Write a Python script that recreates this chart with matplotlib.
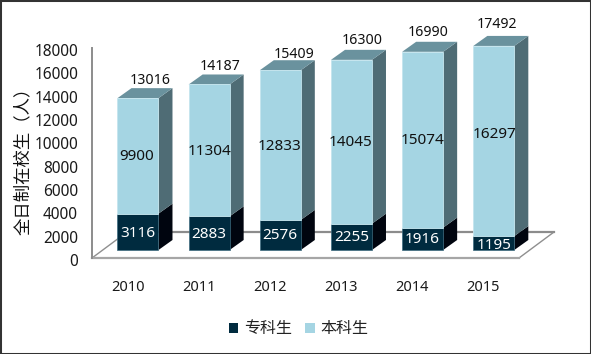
import matplotlib
matplotlib.use("Agg")
import matplotlib.pyplot as plt
from matplotlib.patches import Patch, Rectangle
from matplotlib.transforms import ScaledTranslation

plt.rcParams['font.family'] = ['Noto Sans', 'Noto Sans CJK SC', 'DejaVu Sans']

years = ['2010', '2011', '2012', '2013', '2014', '2015']
zhuanke = [3116, 2883, 2576, 2255, 1916, 1195]
benke = [9900, 11304, 12833, 14045, 15074, 16297]
totals = [13016, 14187, 15409, 16300, 16990, 17492]
y_ticks = list(range(0, 18001, 2000))

W, H = 591, 354
fig = plt.figure(figsize=(W / 100, H / 100), dpi=100, facecolor='white')
fig.add_artist(Rectangle((0, 0), 1, 1, transform=fig.transFigure, fill=False,
                         edgecolor='#333333', linewidth=2.2))

L, R, B, T = 92, 519, 258, 48
ax = fig.add_axes([L / W, 1 - B / H, (R - L) / W, (B - T) / H])
ax.set_xlim(-0.5, 5.5)
ax.set_ylim(0, 18000)
ax.patch.set_alpha(0)

pxx = 6 / (R - L)           # category units per pixel
pxy = 18000 / (B - T)       # value units per pixel

# floor
fdx, fdy = 35 * pxx, 26 * pxy
x0, x1 = -0.5, 5.5
ax.plot([x0, x0 + fdx], [0, fdy], color='#8f8f8f', lw=1, clip_on=False, zorder=1)
ax.plot([x1, x1 + fdx], [0, fdy], color='#8f8f8f', lw=1, clip_on=False, zorder=1)
ax.plot([x0 + fdx, x1 + fdx], [fdy, fdy], color='#8c8c8c', lw=1.6, clip_on=False, zorder=1)
ax.plot([x0, x1], [0, 0], color='#a6a6a6', lw=1.6, clip_on=False, zorder=1)

# bars
ox, oy = 10.4 * pxx, 8 * pxy
w = 41 * pxx
dx, dy = 14 * pxx, 10 * pxy
LIGHT, LIGHT_TOP, LIGHT_SIDE = '#A5D5E3', '#6A929E', '#4F6C75'
DARK, DARK_SIDE = '#002B3F', '#00050F'

for i in range(len(years)):
    xl = i + ox - w / 2
    xr = xl + w
    y0 = oy
    y1 = oy + zhuanke[i]
    y2 = y1 + benke[i]
    ax.fill([xr, xr + dx, xr + dx, xr], [y0, y0 + dy, y1 + dy, y1], color=DARK_SIDE, lw=0, zorder=2, clip_on=False)
    ax.fill([xr, xr + dx, xr + dx, xr], [y1, y1 + dy, y2 + dy, y2], color=LIGHT_SIDE, lw=0, zorder=2, clip_on=False)
    ax.fill([xl, xr, xr + dx, xl + dx], [y2, y2, y2 + dy, y2 + dy], color=LIGHT_TOP, lw=0, zorder=2, clip_on=False)
ax.bar([i + ox for i in range(6)], zhuanke, width=w, bottom=oy, color=DARK,
       edgecolor='#3E6C80', linewidth=0.5, zorder=3, clip_on=False)
ax.bar([i + ox for i in range(6)], benke, width=w, bottom=[oy + z for z in zhuanke],
       color=LIGHT, edgecolor='#C4E5EE', linewidth=0.6, zorder=3, clip_on=False)

# value labels; nudges in pixels from the default placement
top_nudge = [(12, 18), (11, 18), (14, 16), (11, 19), (5, 19), (3.5, 21)]
ben_nudge = [(-1, -1), (0, -1), (-0.5, -1), (-1, -1), (0, -1), (1, 6)]
zhu_nudge = [(0, -2), (0, -1), (-0.5, -1), (0, -1), (0, -1), (0, -2)]
for i in range(len(years)):
    cx = i + ox
    bx, by = ben_nudge[i]
    ax.annotate(str(benke[i]), (cx, oy + zhuanke[i] + benke[i] / 2), xytext=(bx * .72, by * .72),
                textcoords='offset points', ha='center', va='center', fontsize=11,
                color='#111111', zorder=5, annotation_clip=False)
    zx, zy = zhu_nudge[i]
    ax.annotate(str(zhuanke[i]), (cx, oy + zhuanke[i] / 2), xytext=(zx * .72, zy * .72),
                textcoords='offset points', ha='center', va='center', fontsize=11,
                color='white', zorder=5, annotation_clip=False)
    tx, ty = top_nudge[i]
    ax.annotate(str(totals[i]), (cx, oy + totals[i]), xytext=(tx * .72, ty * .72),
                textcoords='offset points', ha='center', va='center', fontsize=10.2,
                color='#111111', zorder=5, annotation_clip=False)

# axes
for s in ['top', 'right', 'bottom']:
    ax.spines[s].set_visible(False)
ax.spines['left'].set_color('#8c8c8c')
ax.spines['left'].set_linewidth(1.4)
ax.set_yticks(y_ticks)
ax.set_yticklabels([str(v) for v in y_ticks], fontsize=11.1, color='#1a1a1a')
ax.set_xticks(range(6))
ax.set_xticklabels(years, fontsize=10.5, color='#1a1a1a')
ax.tick_params(axis='y', length=0, pad=10)
ax.tick_params(axis='x', length=0, pad=15.5)
shift = ScaledTranslation(0, -2 / 100, fig.dpi_scale_trans)
for lab in ax.get_yticklabels():
    lab.set_transform(lab.get_transform() + shift)
ax.set_ylabel('全日制在校生（人）', fontsize=12.5, color='#111111', va='center',
              family=['Noto Sans CJK SC', 'DejaVu Sans'])
ax.yaxis.set_label_coords(23 / W, 1 - 157 / H, transform=fig.transFigure)

handles = [Patch(facecolor=DARK, label='专科生'), Patch(facecolor=LIGHT, label='本科生')]
fig.legend(handles=handles, ncol=2, frameon=False, loc='center',
           bbox_to_anchor=(298.5 / W, 1 - 329 / H),
           prop={'family': ['Noto Sans CJK SC', 'DejaVu Sans'], 'size': 11.5},
           handlelength=0.58, handleheight=0.6, handletextpad=0.35, columnspacing=0.85,
           labelcolor='#222222')

fig.savefig('out.png', dpi=100)
